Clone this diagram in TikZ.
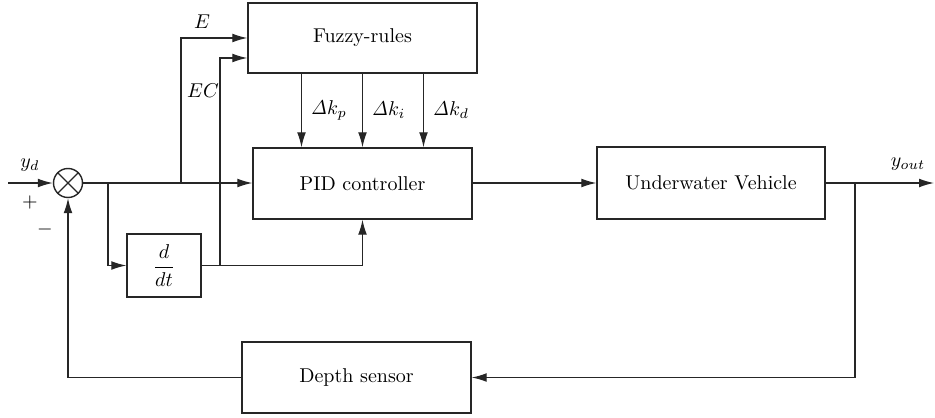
\documentclass[tikz,border=0pt]{standalone}
\usepackage{amsmath}
\usetikzlibrary{arrows.meta,positioning,calc}
\tikzset{
  block/.style={
    draw=black!85,
    rectangle,
    line width=0.7pt,
    align=center
  },
  sumjoint/.style={
    draw=black!85,
    circle,
    line width=0.7pt,
    minimum size=14.5pt,
    inner sep=0pt
  },
  arrow/.style={
    -{Latex[length=7.5pt,width=4.4pt]},
    draw=black!85,
    line width=0.6pt
  },
  wire/.style={
    draw=black!85,
    line width=0.6pt
  }
}

\begin{document}
\begin{tikzpicture}[x=0.5pt,y=-0.5pt]
  \useasboundingbox (0,0) rectangle (935,417);

  % Blocks
  \node[block, minimum width=114.5pt, minimum height=35pt] (fuzzy) at (362.5,38) {Fuzzy-rules};
  \node[block, minimum width=109.5pt, minimum height=35.5pt] (pid) at (362.5,183.5) {PID controller};
  \node[block, minimum width=114pt, minimum height=36pt] (plant) at (711,183) {Underwater Vehicle};
  \node[block, minimum width=114.5pt, minimum height=35.5pt] (sensor) at (356.5,377.5) {Depth sensor};
  \node[block, minimum width=37pt, minimum height=31.5pt, inner sep=1pt] (ddt) at (164,265.5) {$\displaystyle\frac{d}{dt}$};

  % Summing junction
  \node[sumjoint] (sum) at (68,183) {};
  \draw[wire] (sum.45) -- (sum.225);
  \draw[wire] (sum.135) -- (sum.315);

  % Branch points
  \coordinate (in) at (8,183);
  \coordinate (dbranch) at (108,183);
  \coordinate (ebranch) at (181,183);
  \coordinate (ecbranch) at (220,265.5);
  \coordinate (obranch) at (855,183);
  \coordinate (out) at (934,183);

  % Forward path
  \draw[arrow] (in) -- (sum.west);
  \draw[arrow] (sum.east) -- (sum.east -| pid.west);
  \draw[arrow] (pid.east |- plant.west) -- (plant.west);
  \draw[arrow] (plant.east) -- (out);

  % Error and derivative
  \draw[arrow] (ebranch) |- (fuzzy.west);
  \draw[arrow] (dbranch) |- (ddt.west);
  \draw[arrow] (ddt.east) -| (pid.south);
  \draw[arrow] (ecbranch) |- ([yshift=-10pt]fuzzy.west);

  % Gain corrections
  \foreach \dx/\sub in {-30.5/p, 0/i, 30.5/d} {
    \draw[arrow] ([xshift=\dx pt]fuzzy.south) -- ([xshift=\dx pt]fuzzy.south |- pid.north)
      node[midway, right=1pt] {$\mathit{\Delta} k_{\sub}$};
  }

  % Feedback
  \draw[arrow] (obranch) |- (sensor.east);
  \draw[arrow] (sensor.west) -| (sum.south);

  % Labels
  \node (yd) at (30,165) {$y_d$};
  \node (plus) at (30,202) {$+$};
  \node (minus) at (45,229) {$-$};
  \node (elab) at (202,22) {$E$};
  \node (eclab) at (203,91) {$EC$};
  \node (yout) at (908,164) {$y_{out}$};
\end{tikzpicture}
\end{document}
